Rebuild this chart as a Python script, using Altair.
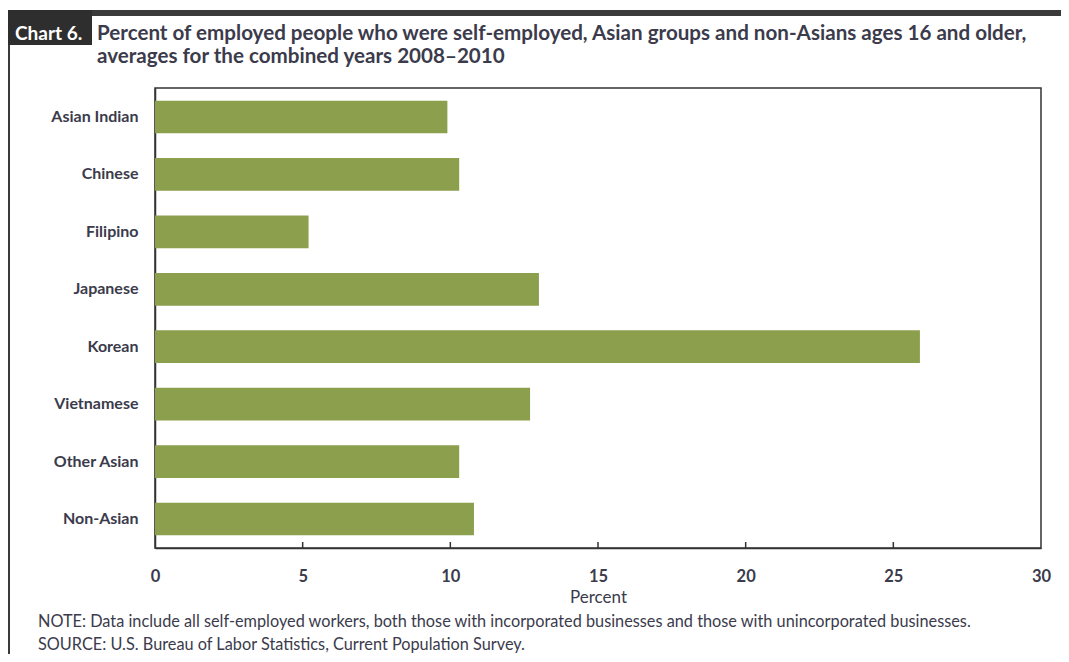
import altair as alt
import pandas as pd

groups = ["Asian Indian", "Chinese", "Filipino", "Japanese", "Korean",
          "Vietnamese", "Other Asian", "Non-Asian"]
values = [9.9, 10.3, 5.2, 13.0, 25.9, 12.7, 10.3, 10.8]
tick_values = [5, 10, 15, 20, 25]

chart_label = "Chart 6."
title_lines = [
    "Percent of employed people who were self-employed, Asian groups and non-Asians ages 16 and older,",
    "averages for the combined years 2008\u20132010",
]
note_lines = [
    "NOTE:  Data include all self-employed workers, both those with incorporated businesses and those with unincorporated businesses.",
    "SOURCE:  U.S. Bureau of Labor Statistics, Current Population Survey.",
]

W, H = 886, 460
FONT = "Lato"
TXT = "#3b3b4c"
GREEN = "#8b9f4d"

df = pd.DataFrame({"group": groups, "value": values})
ticks = pd.DataFrame({"tick": tick_values})
one = pd.DataFrame({"a": [0]})

bars = alt.Chart(df).mark_bar(color=GREEN).encode(
    y=alt.Y("group:N", sort=groups, title=None,
            scale=alt.Scale(paddingInner=0.43, paddingOuter=0.22),
            axis=alt.Axis(labelFont=FONT, labelFontSize=16, labelFontWeight="bold",
                          labelColor=TXT, ticks=False, labelPadding=17,
                          domainColor="#333333", domainWidth=1.5)),
    x=alt.X("value:Q", title="Percent",
            scale=alt.Scale(domain=[0, 30], nice=False),
            axis=alt.Axis(values=[0, 5, 10, 15, 20, 25, 30], ticks=False,
                          labelFont=FONT, labelFontSize=16.5, labelFontWeight="bold",
                          labelColor=TXT, labelPadding=20, grid=False, labelFlush=False,
                          titleFont=FONT, titleFontSize=17, titleFontWeight="normal",
                          titleColor=TXT, titlePadding=5,
                          domainColor="#333333", domainWidth=1.5)),
)

tick_marks = alt.Chart(ticks).mark_rule(color="#333333", strokeWidth=1.5).encode(
    x="tick:Q",
    y=alt.value(H),
    y2=alt.value(H - 6),
)

top_bar = alt.Chart(one).mark_rect(color="#3a3a3a").encode(
    x=alt.value(-147), x2=alt.value(914), y=alt.value(-78), y2=alt.value(-72))
left_line = alt.Chart(one).mark_rect(color="#3a3a3a").encode(
    x=alt.value(-147), x2=alt.value(-145), y=alt.value(-78), y2=alt.value(574))
label_box = alt.Chart(one).mark_rect(color="#2e2e2e").encode(
    x=alt.value(-147), x2=alt.value(-63), y=alt.value(-78), y2=alt.value(-43))

label_text = alt.Chart(pd.DataFrame({"t": [chart_label]})).mark_text(
    font=FONT, fontSize=19, fontWeight="bold", color="white", align="left", baseline="middle"
).encode(x=alt.value(-140), y=alt.value(-54), text="t:N")

title1 = alt.Chart(pd.DataFrame({"t": [title_lines[0]]})).mark_text(
    font=FONT, fontSize=20.6, fontWeight="bold", color=TXT, align="left", baseline="middle"
).encode(x=alt.value(-58), y=alt.value(-54), text="t:N")
title2 = alt.Chart(pd.DataFrame({"t": [title_lines[1]]})).mark_text(
    font=FONT, fontSize=20.6, fontWeight="bold", color=TXT, align="left", baseline="middle"
).encode(x=alt.value(-58), y=alt.value(-31), text="t:N")

note1 = alt.Chart(pd.DataFrame({"t": [note_lines[0]]})).mark_text(
    font=FONT, fontSize=16.3, color=TXT, align="left", baseline="middle"
).encode(x=alt.value(-117), y=alt.value(534), text="t:N")
note2 = alt.Chart(pd.DataFrame({"t": [note_lines[1]]})).mark_text(
    font=FONT, fontSize=16.3, color=TXT, align="left", baseline="middle"
).encode(x=alt.value(-117), y=alt.value(557), text="t:N")

chart = alt.layer(
    bars, tick_marks, top_bar, left_line, label_box, label_text, title1, title2, note1, note2
).properties(
    width=W, height=H,
    autosize=alt.AutoSizeParams(type="none"),
    padding={"left": 147, "top": 80, "right": 20, "bottom": 106},
    background="white",
).configure_view(stroke="#333333", strokeWidth=1.5)

chart.save("out.html", embed_options={"renderer": "svg", "actions": False})
